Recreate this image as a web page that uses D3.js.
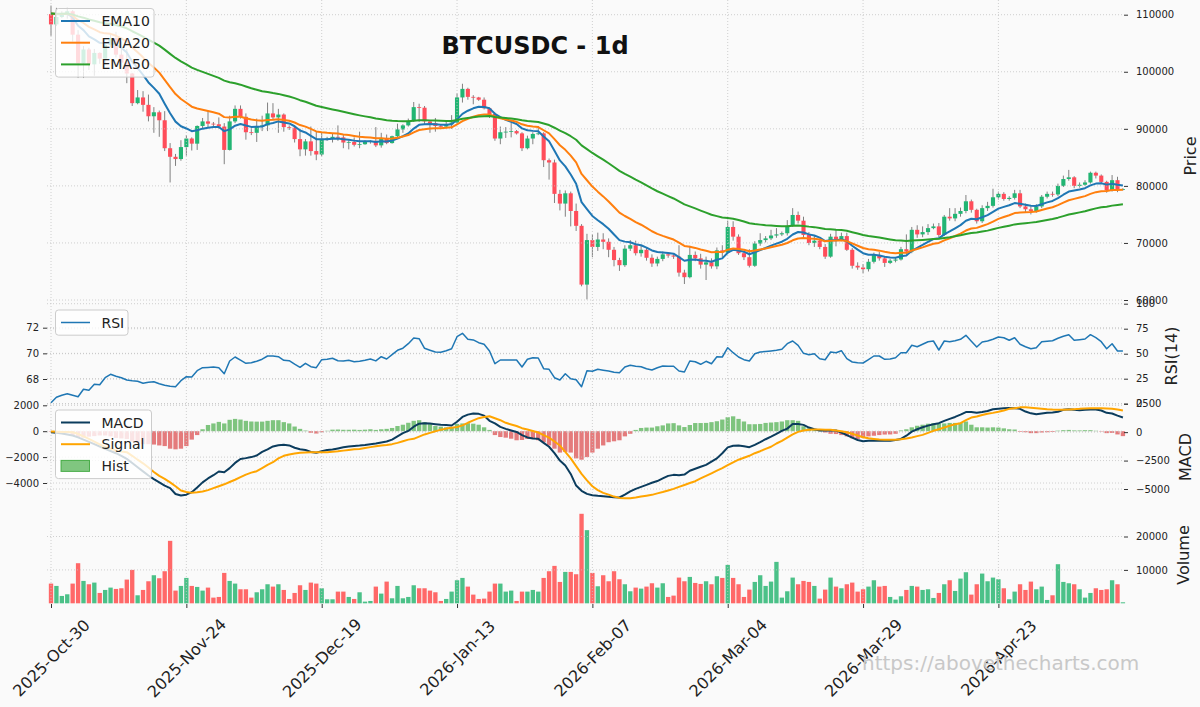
<!DOCTYPE html>
<html>
<head>
<meta charset="utf-8">
<script src="https://cdn.jsdelivr.net/npm/d3@7"></script>
<style>
  body { margin: 0; background: #fafafa; }
  svg { font-family: "DejaVu Sans", sans-serif; }
</style>
</head>
<body>
<svg id="chart" width="1200" height="707"></svg>
<script>
// BTCUSDC daily, 2025-10-30 .. 2026-05-16 (prices in thousand USD)
const tickIdx = [0, 25, 50, 75, 100, 125, 150, 175];
const tickLabels = ["2025-Oct-30", "2025-Nov-24", "2025-Dec-19", "2026-Jan-13",
  "2026-Feb-07", "2026-Mar-04", "2026-Mar-29", "2026-Apr-23"];

const open = [
  110.1,108.3,109.6,110.1,110.6,106.5,101.5,103.9,101.3,103.3,
  102.3,104.7,105.9,103.0,101.6,99.7,94.5,95.5,94.2,92.2,
  92.9,91.5,86.6,85.1,84.7,86.8,88.3,87.4,90.5,91.3,
  90.9,90.8,90.4,86.3,91.3,93.5,92.1,89.4,89.3,90.4,
  90.6,92.7,92.0,92.5,90.3,90.2,88.2,86.4,87.8,86.1,
  85.5,88.1,88.3,88.6,88.5,87.6,87.7,87.2,87.3,87.8,
  87.9,87.1,88.4,87.5,88.7,89.9,90.6,91.4,93.8,93.7,
  91.3,91.0,90.5,90.4,90.8,91.1,95.5,97.0,95.6,95.5,
  95.1,93.6,92.6,88.3,89.4,89.5,89.6,89.2,86.6,88.3,
  89.1,89.2,84.5,84.1,78.6,76.9,78.7,75.6,73.0,62.7,
  70.5,69.3,70.6,70.2,68.8,67.0,66.1,69.0,69.6,68.2,
  68.8,67.4,66.4,67.2,68.0,67.8,67.6,64.8,64.0,67.9,
  67.3,66.2,66.6,65.9,68.7,68.3,72.8,71.1,68.2,67.5,
  66.0,69.9,70.5,70.8,71.3,71.5,71.7,73.0,74.9,73.9,
  71.4,70.0,70.4,69.3,67.6,71.1,70.6,71.2,68.8,66.0,
  65.7,65.4,66.7,67.9,67.3,66.5,66.9,67.1,68.9,68.5,
  72.3,71.5,71.9,72.6,72.9,71.4,74.6,74.3,75.1,75.6,
  77.3,75.8,73.8,76.1,76.5,78.0,78.6,77.7,77.9,78.7,
  76.4,75.9,75.6,76.4,78.1,78.6,78.5,80.0,81.2,81.5,
  80.0,80.2,80.6,82.3,81.8,80.7,79.2,81.0,79.4];
const high = [
  111.6,111.2,110.6,111.2,110.8,107.3,104.5,104.2,104.0,103.4,
  105.0,106.6,107.0,105.3,104.0,99.8,96.8,96.6,96.0,93.8,
  93.2,93.1,87.5,85.6,88.0,88.9,88.5,90.6,91.9,93.1,
  91.2,92.0,91.0,92.3,94.1,94.1,92.7,90.3,91.8,92.3,
  94.6,94.5,93.5,92.7,90.6,90.5,90.0,88.2,90.4,89.5,
  89.4,88.6,89.1,90.6,88.9,88.0,88.5,89.5,88.0,88.0,
  90.3,89.3,89.0,88.8,90.9,90.8,91.8,94.7,94.4,94.0,
  91.5,91.9,90.8,91.2,92.4,96.2,97.9,97.2,95.9,95.6,
  95.5,93.7,92.8,90.4,90.3,91.1,89.8,89.4,88.8,89.4,
  90.5,89.4,84.8,84.6,79.3,79.2,79.0,76.9,73.3,71.6,
  71.5,71.8,71.7,70.8,69.3,67.4,69.6,70.5,70.4,69.5,
  69.2,68.0,67.6,68.5,68.3,68.0,69.6,65.3,69.5,68.5,
  68.1,67.6,67.3,69.2,69.6,73.9,73.8,71.5,68.6,68.9,
  70.3,71.7,71.2,72.3,72.6,72.0,74.0,76.1,75.5,74.6,
  71.9,71.2,70.7,69.8,71.6,72.3,71.8,71.8,69.1,66.6,
  66.3,67.2,68.3,68.4,67.6,67.2,67.4,69.3,71.5,72.8,
  73.1,72.9,73.3,73.4,73.5,74.9,76.1,76.1,76.2,78.4,
  77.6,76.0,76.6,77.2,79.5,79.0,78.9,78.2,79.3,79.3,
  76.9,76.4,76.8,78.4,79.0,79.0,80.4,81.8,82.8,81.7,
  80.6,81.0,82.5,82.5,82.0,80.9,81.9,81.6,79.6];
const low = [
  106.3,108.0,109.4,109.3,105.3,98.9,98.9,100.3,99.3,101.4,
  101.3,104.3,102.5,100.8,98.0,94.0,94.3,93.0,91.3,89.3,
  88.6,86.1,80.6,83.5,84.4,85.3,86.2,86.3,90.1,90.2,
  90.2,90.0,83.8,86.2,91.0,91.8,88.1,88.9,87.7,89.6,
  89.6,91.6,89.3,89.5,89.8,87.6,85.2,85.3,85.3,84.5,
  85.2,87.9,87.6,87.9,86.6,86.4,86.9,86.6,87.2,87.4,
  86.8,86.7,87.3,87.4,88.3,89.3,90.4,91.2,91.2,90.8,
  89.3,89.5,90.2,90.1,90.0,90.9,94.6,95.1,94.3,94.9,
  93.4,91.9,87.9,87.3,88.4,88.5,89.0,86.1,86.4,87.3,
  88.9,83.3,81.1,77.0,75.7,74.6,72.9,72.1,62.4,60.1,
  67.5,68.6,68.9,67.5,65.9,65.1,65.8,68.6,67.8,67.6,
  66.9,65.8,65.9,66.8,67.4,67.2,64.1,62.8,63.8,66.8,
  65.5,63.5,65.5,65.4,67.5,68.1,70.4,67.9,67.0,65.7,
  65.8,69.5,70.1,70.5,70.9,71.2,71.3,72.8,73.4,71.0,
  69.6,69.3,68.9,67.2,67.4,69.4,70.3,68.6,65.5,65.3,
  64.7,65.0,66.4,66.9,65.8,66.3,66.6,66.9,68.0,68.2,
  70.9,71.0,71.4,72.4,71.0,71.2,73.9,73.8,74.6,75.2,
  75.3,73.4,73.5,75.6,76.2,77.6,77.4,77.4,77.6,76.1,
  75.3,75.0,75.3,76.1,77.8,78.1,78.2,79.8,80.9,79.6,
  79.7,80.0,80.4,81.3,80.4,78.8,79.0,78.9,79.2];
const close = [
  108.3,109.6,110.1,110.6,106.5,101.5,103.9,101.3,103.3,102.3,
  104.7,105.9,103.0,101.6,99.7,94.5,95.5,94.2,92.2,92.9,
  91.5,86.6,85.1,84.7,86.8,88.3,87.4,90.5,91.3,90.9,
  90.8,90.4,86.3,91.3,93.5,92.1,89.4,89.3,90.4,90.6,
  92.7,92.0,92.5,90.3,90.2,88.2,86.4,87.8,86.1,85.5,
  88.1,88.3,88.6,88.5,87.6,87.7,87.2,87.3,87.8,87.9,
  87.1,88.4,87.5,88.7,89.9,90.6,91.4,93.8,93.7,91.3,
  91.0,90.5,90.4,90.8,91.1,95.5,97.0,95.6,95.5,95.1,
  93.6,92.6,88.3,89.4,89.5,89.6,89.2,86.6,88.3,89.1,
  89.2,84.5,84.1,78.6,76.9,78.7,75.6,73.0,62.7,70.5,
  69.3,70.6,70.2,68.8,67.0,66.1,69.0,69.6,68.2,68.8,
  67.4,66.4,67.2,68.0,67.8,67.6,64.8,64.0,67.9,67.3,
  66.2,66.6,65.9,68.7,68.3,72.8,71.1,68.2,67.5,66.0,
  69.9,70.5,70.8,71.3,71.5,71.7,73.0,74.9,73.9,71.4,
  70.0,70.4,69.3,67.6,71.1,70.6,71.2,68.8,66.0,65.7,
  65.4,66.7,67.9,67.3,66.5,66.9,67.1,68.9,68.5,72.3,
  71.5,71.9,72.6,72.9,71.4,74.6,74.3,75.1,75.6,77.3,
  75.8,73.8,76.1,76.5,78.0,78.6,77.7,77.9,78.7,76.4,
  75.9,75.6,76.4,78.1,78.6,78.5,80.0,81.2,81.5,80.0,
  80.2,80.6,82.3,81.8,80.7,79.2,81.0,79.4,79.45];

const ema10 = [
  110.2,110.09,110.09,110.18,109.51,108.05,107.30,106.21,105.68,105.07,
  105.00,105.16,104.77,104.19,103.37,101.76,100.62,99.45,98.13,97.18,
  96.15,94.41,92.72,91.26,90.45,90.06,89.58,89.75,90.03,90.19,
  90.30,90.32,89.59,89.90,90.55,90.83,90.57,90.34,90.35,90.40,
  90.82,91.03,91.30,91.12,90.95,90.45,89.71,89.36,88.77,88.18,
  88.17,88.19,88.27,88.31,88.18,88.09,87.93,87.82,87.82,87.83,
  87.70,87.83,87.77,87.94,88.29,88.71,89.20,90.04,90.70,90.81,
  90.84,90.78,90.71,90.73,90.80,91.65,92.62,93.17,93.59,93.86,
  93.81,93.59,92.63,92.04,91.58,91.22,90.85,90.08,89.76,89.64,
  89.56,88.64,87.81,86.14,84.46,83.41,81.99,80.36,77.15,75.94,
  74.73,73.98,73.29,72.48,71.48,70.50,70.23,70.12,69.77,69.59,
  69.19,68.68,68.41,68.34,68.24,68.12,67.52,66.88,67.07,67.11,
  66.94,66.88,66.70,67.06,67.29,68.29,68.80,68.69,68.47,68.02,
  68.36,68.75,69.12,69.52,69.88,70.21,70.72,71.48,71.92,71.83,
  71.50,71.30,70.94,70.33,70.47,70.49,70.62,70.29,69.51,68.82,
  68.20,67.93,67.92,67.81,67.57,67.45,67.39,67.66,67.81,68.63,
  69.15,69.65,70.19,70.68,70.81,71.50,72.01,72.57,73.12,73.88,
  74.23,74.15,74.51,74.87,75.44,76.01,76.32,76.61,76.99,76.88,
  76.70,76.50,76.48,76.78,77.11,77.36,77.84,78.45,79.01,79.19,
  79.37,79.59,80.08,80.40,80.45,80.22,80.36,80.19,80.06];
const ema20 = [
  110.2,110.14,110.14,110.18,109.83,109.04,108.55,107.86,107.43,106.94,
  106.73,106.65,106.30,105.85,105.27,104.24,103.41,102.53,101.55,100.73,
  99.85,98.59,97.30,96.10,95.22,94.56,93.88,93.56,93.34,93.11,
  92.89,92.65,92.05,91.98,92.12,92.12,91.86,91.62,91.50,91.42,
  91.54,91.58,91.67,91.54,91.41,91.11,90.66,90.39,89.98,89.55,
  89.41,89.31,89.24,89.17,89.02,88.90,88.74,88.60,88.52,88.46,
  88.33,88.34,88.26,88.30,88.45,88.65,88.91,89.38,89.79,89.93,
  90.04,90.08,90.11,90.18,90.26,90.76,91.36,91.76,92.12,92.40,
  92.51,92.52,92.12,91.86,91.64,91.44,91.23,90.79,90.55,90.41,
  90.30,89.75,89.21,88.20,87.12,86.32,85.30,84.13,82.09,80.99,
  79.88,78.99,78.16,77.27,76.29,75.32,74.72,74.23,73.66,73.19,
  72.64,72.05,71.59,71.24,70.92,70.60,70.05,69.47,69.32,69.13,
  68.85,68.64,68.38,68.41,68.40,68.82,69.03,68.95,68.81,68.55,
  68.68,68.85,69.04,69.25,69.47,69.68,69.99,70.46,70.79,70.85,
  70.77,70.73,70.60,70.31,70.39,70.41,70.48,70.32,69.91,69.51,
  69.12,68.89,68.79,68.65,68.45,68.30,68.19,68.26,68.28,68.66,
  68.93,69.22,69.54,69.86,70.00,70.44,70.81,71.22,71.63,72.17,
  72.52,72.64,72.97,73.30,73.75,74.21,74.54,74.86,75.23,75.34,
  75.39,75.41,75.51,75.76,76.03,76.26,76.62,77.06,77.48,77.72,
  77.96,78.21,78.60,78.90,79.07,79.09,79.27,79.28,79.30];
const ema50 = [
  110.2,110.18,110.17,110.19,110.04,109.71,109.48,109.16,108.93,108.67,
  108.52,108.41,108.20,107.94,107.62,107.10,106.65,106.16,105.61,105.12,
  104.58,103.88,103.14,102.42,101.81,101.28,100.73,100.33,99.98,99.62,
  99.28,98.93,98.44,98.16,97.97,97.74,97.42,97.10,96.84,96.59,
  96.44,96.26,96.12,95.89,95.67,95.38,95.02,94.74,94.40,94.05,
  93.82,93.60,93.40,93.21,92.99,92.78,92.56,92.36,92.18,92.01,
  91.82,91.69,91.52,91.41,91.35,91.32,91.33,91.42,91.51,91.50,
  91.48,91.44,91.40,91.38,91.37,91.53,91.75,91.90,92.04,92.16,
  92.22,92.23,92.08,91.97,91.88,91.79,91.69,91.49,91.36,91.27,
  91.19,90.93,90.66,90.19,89.67,89.24,88.70,88.09,87.09,86.44,
  85.77,85.17,84.59,83.97,83.30,82.63,82.10,81.61,81.08,80.60,
  80.08,79.55,79.06,78.63,78.20,77.79,77.28,76.76,76.41,76.05,
  75.67,75.31,74.94,74.70,74.45,74.38,74.25,74.02,73.76,73.46,
  73.32,73.21,73.11,73.04,72.98,72.93,72.93,73.01,73.04,72.98,
  72.86,72.77,72.63,72.43,72.38,72.31,72.27,72.13,71.89,71.65,
  71.40,71.22,71.09,70.94,70.77,70.62,70.48,70.42,70.34,70.42,
  70.46,70.52,70.60,70.69,70.72,70.87,71.00,71.16,71.34,71.57,
  71.74,71.82,71.99,72.16,72.39,72.64,72.83,73.03,73.25,73.38,
  73.47,73.56,73.67,73.84,74.03,74.21,74.43,74.70,74.97,75.16,
  75.36,75.56,75.83,76.06,76.24,76.36,76.54,76.65,76.76];

const rsi = [
  1.0,6.5,8.5,10.0,8.5,7.0,14.4,13.4,19.4,19.0,
  26.0,29.4,27.5,26.0,23.7,23.0,22.5,20.5,21.5,22.0,
  20.0,18.5,17.5,17.0,23.0,27.0,26.7,33.0,36.0,36.3,
  36.7,36.0,30.0,42.7,46.7,43.5,40.4,41.0,42.5,44.5,
  47.7,47.7,47.0,43.4,43.0,39.5,36.4,40.4,37.0,36.0,
  44.0,44.4,45.4,43.0,42.7,43.4,42.0,42.5,43.4,44.7,
  42.8,47.0,44.7,49.0,53.4,55.5,60.0,65.7,65.0,55.4,
  53.5,51.7,51.4,53.0,55.0,67.0,70.4,64.4,63.8,61.0,
  59.4,52.7,40.0,43.7,43.7,43.7,43.7,36.7,44.4,46.0,
  45.7,35.0,34.4,26.0,23.7,30.0,25.0,24.0,17.0,33.0,
  32.4,34.4,33.5,32.7,31.5,31.0,36.7,38.4,37.5,37.0,
  35.0,33.7,36.0,37.7,37.5,37.4,32.7,31.7,42.7,42.0,
  39.4,42.4,40.0,47.0,46.7,56.0,51.0,46.7,44.0,42.7,
  50.0,51.7,52.2,52.8,53.5,54.4,60.0,62.7,58.4,50.4,
  49.0,50.0,45.0,44.0,51.7,51.0,53.0,45.0,41.7,41.0,
  40.7,44.0,47.7,47.7,44.4,44.7,46.0,51.0,51.0,58.4,
  57.0,59.5,62.0,62.7,53.7,62.7,62.0,63.0,64.4,68.4,
  62.5,56.7,61.7,62.7,64.5,66.7,66.0,63.4,66.0,59.4,
  57.0,55.0,56.0,62.0,62.5,63.0,65.4,67.5,69.0,63.4,
  64.0,64.7,69.0,66.0,62.0,55.0,60.0,52.7,52.7];

const macd = [
  -77,-120,-180,-260,-335,-480,-650,-820,-1000,-1180,
  -1364,-1530,-1700,-1900,-2136,-2450,-2780,-3100,-3423,-3700,
  -3950,-4200,-4400,-4850,-4968,-4900,-4710,-4350,-3950,-3650,
  -3400,-3115,-3166,-2850,-2450,-2150,-2080,-2000,-1879,-1600,
  -1400,-1180,-1080,-1055,-1100,-1280,-1400,-1450,-1600,-1660,
  -1544,-1450,-1420,-1330,-1236,-1180,-1140,-1110,-1060,-1000,
  -950,-870,-800,-650,-400,-150,20,350,580,620,
  590,545,500,470,440,730,1100,1280,1364,1340,
  1200,800,600,330,180,60,-60,-300,-480,-570,
  -592,-900,-1200,-1700,-2265,-2650,-3300,-4200,-4600,-4839,
  -4950,-4990,-5019,-5060,-5100,-5120,-4900,-4650,-4450,-4300,
  -4144,-3980,-3850,-3650,-3450,-3372,-3400,-3350,-3050,-2900,
  -2750,-2600,-2350,-2100,-1700,-1250,-1130,-1110,-1170,-1236,
  -1050,-849,-620,-420,-200,30,200,550,560,489,
  280,150,60,50,50,50,-100,-300,-500,-680,
  -772,-740,-720,-740,-746,-730,-680,-600,-350,-30,
  150,300,430,530,618,800,952,1100,1280,1480,
  1480,1416,1480,1560,1700,1740,1770,1800,1780,1725,
  1519,1380,1313,1360,1416,1450,1500,1660,1690,1650,
  1622,1650,1673,1680,1600,1416,1370,1200,1055];
const signal = [
  -26,-40,-60,-70,-77,-200,-400,-592,-800,-1020,
  -1236,-1360,-1480,-1560,-1622,-1900,-2200,-2480,-2800,-3150,
  -3450,-3681,-3950,-4250,-4582,-4700,-4762,-4720,-4659,-4550,
  -4400,-4247,-4100,-3920,-3750,-3550,-3350,-3200,-3089,-2850,
  -2600,-2394,-2100,-1900,-1800,-1720,-1673,-1650,-1630,-1622,
  -1622,-1622,-1590,-1550,-1500,-1450,-1400,-1370,-1300,-1230,
  -1170,-1110,-1060,-1000,-900,-780,-650,-590,-420,-250,
  -129,-10,120,200,270,320,450,650,830,1004,
  1100,1150,1004,850,650,520,400,232,130,20,
  -100,-300,-500,-800,-1107,-1600,-2100,-2700,-3300,-3800,
  -4250,-4550,-4762,-4900,-5050,-5150,-5174,-5174,-5120,-5050,
  -4980,-4916,-4800,-4700,-4580,-4453,-4300,-4150,-4000,-3860,
  -3650,-3450,-3250,-3050,-2850,-2620,-2400,-2200,-2050,-1900,
  -1700,-1544,-1370,-1200,-950,-750,-500,-250,-50,60,
  120,135,130,120,105,60,0,-77,-200,-330,
  -463,-550,-600,-643,-660,-669,-660,-620,-560,-480,
  -380,-283,-130,30,150,280,420,540,620,850,
  1050,1133,1250,1350,1416,1500,1600,1725,1780,1840,
  1853,1820,1776,1740,1700,1673,1660,1647,1670,1700,
  1725,1760,1776,1776,1776,1760,1725,1680,1596];
const hist = [
  -30,-50,-80,-150,-300,-450,-500,-420,-380,-330,
  -330,-400,-520,-560,-600,-800,-900,-1000,-1000,-1030,
  -1100,-1150,-1350,-1400,-1350,-1150,-650,-300,150,480,
  600,720,600,880,950,900,800,750,740,740,
  800,850,850,700,600,360,180,50,-120,-180,
  -80,30,120,130,110,110,120,100,120,150,
  100,150,180,250,400,500,650,800,850,700,
  550,400,350,300,330,560,600,620,580,500,
  300,100,-300,-450,-500,-580,-700,-680,-600,-580,
  -700,-850,-1100,-1350,-1650,-1600,-1650,-2100,-2200,-2000,
  -1650,-1350,-1100,-850,-780,-700,-400,-200,100,250,
  280,280,380,450,600,620,450,320,480,630,
  630,640,700,770,900,1080,1150,950,750,540,
  540,560,640,670,700,750,850,850,800,380,
  230,100,80,-100,-200,-220,-300,-400,-550,-600,
  -500,-400,-350,-300,-260,-250,-200,60,150,300,
  420,500,580,620,600,600,640,640,650,750,
  500,300,300,280,300,280,220,150,130,-50,
  -80,-150,-150,-100,-80,-60,40,80,100,60,
  60,80,80,30,-30,-150,-130,-250,-380];

const volume = [
  5900,5200,2200,2700,5900,12000,6700,5700,6200,3100,
  4000,4700,4300,4500,7100,10000,2400,4000,6600,8400,
  7500,9600,18700,3800,5200,7600,5200,4900,3800,4700,
  1700,1900,9100,6700,5900,4200,4200,1700,3300,4200,
  5700,5000,5700,4000,1300,3100,5400,4000,6200,5900,
  4500,1200,1200,3500,3500,1900,1300,3300,500,700,
  5000,2900,6500,1500,5200,1500,1900,5400,4500,4500,
  3800,3300,700,1300,3500,6900,7600,5000,2600,1300,
  1400,3500,5900,5900,3500,3800,700,3500,3500,4000,
  3500,7600,9600,11200,6400,9400,9400,8700,26800,21900,
  9100,5100,8400,6600,9600,7200,5700,3600,4700,4400,
  5000,6000,4700,6000,1900,2300,7700,6600,7900,6100,
  5800,6600,5700,8100,7600,11500,7600,5700,1900,4100,
  6400,8400,5200,6500,12400,1700,3600,7700,5700,6700,
  6400,5200,1400,4100,7700,5000,4500,5700,6200,3500,
  4200,5000,6900,5000,5200,1900,1100,2100,4000,5200,
  5000,4000,4200,1600,3100,5700,6900,3700,7400,9300,
  2600,5700,8900,6600,7700,7200,4500,1200,3500,5700,
  4000,6500,4200,5000,1000,2400,11700,6400,6000,5700,
  4200,1700,3100,4500,4000,4200,6900,5700,300];

const priceTicks = [60, 70, 80, 90, 100, 110];
const rsiTicksR = [0, 25, 50, 75, 100];
const rsiTicksL = [68, 70, 72];
const macdTicksL = [-4000, -2000, 0, 2000];
const macdTicksR = [-5000, -2500, 0, 2500];
const volTicks = [10000, 20000];

const UP = "#22b573", DOWN = "#ff4d5a";
const svg = d3.select("#chart");
svg.append("rect").attr("width", 1200).attr("height", 707).attr("fill", "#fafafa");

const left = 47, right = 1124;
const x = d3.scaleLinear().domain([-0.74, 198.2]).range([left, right]);
const yPrice = d3.scaleLinear().domain([60, 110]).range([300, 14.7]);
const yRsi = d3.scaleLinear().domain([0, 100]).range([403.7, 303.7]);
const yRsiL = d3.scaleLinear().domain([68, 72]).range([379, 327.7]);
const yMacd = d3.scaleLinear().domain([-4000, 2000]).range([483, 405.3]);
const yMacdR = d3.scaleLinear().domain([-5000, 2500]).range([489, 403.7]);
const yVol = d3.scaleLinear().domain([0, 20000]).range([603.3, 536.5]);
const step = x(1) - x(0);
const idx = d3.range(close.length);

// bars (patches) first
const histG = svg.append("g");
histG.selectAll("rect").data(hist).enter().append("rect")
  .attr("x", (d, i) => x(i) - step * 0.4)
  .attr("width", step * 0.8)
  .attr("y", d => Math.min(yMacd(d), yMacd(0)))
  .attr("height", d => Math.abs(yMacd(d) - yMacd(0)))
  .attr("fill", d => d >= 0 ? "#2ca02c" : "#d62728")
  .attr("opacity", 0.6);

svg.append("g").selectAll("rect").data(volume).enter().append("rect")
  .attr("x", (d, i) => x(i) - step * 0.4)
  .attr("width", step * 0.8)
  .attr("y", d => yVol(d))
  .attr("height", d => yVol(0) - yVol(d))
  .attr("fill", (d, i) => close[i] >= open[i] ? "#2bb673" : "#ff4d4d")
  .attr("opacity", 0.85);

// candles
const cg = svg.append("g");
cg.selectAll("line").data(idx).enter().append("line")
  .attr("x1", i => x(i)).attr("x2", i => x(i))
  .attr("y1", i => yPrice(high[i])).attr("y2", i => yPrice(low[i]))
  .attr("stroke", "#808080").attr("stroke-width", 1);
cg.selectAll("rect").data(idx).enter().append("rect")
  .attr("x", i => x(i) - step * 0.38)
  .attr("width", step * 0.76)
  .attr("y", i => yPrice(Math.max(open[i], close[i])))
  .attr("height", i => Math.max(0.8, Math.abs(yPrice(open[i]) - yPrice(close[i]))))
  .attr("fill", i => close[i] >= open[i] ? UP : DOWN);

// grid
const grid = svg.append("g").attr("stroke", "#c4c4c4").attr("stroke-width", 0.8)
  .attr("stroke-dasharray", "1,2");
function hGrid(scale, vals) {
  grid.append("g").selectAll("line").data(vals).enter().append("line")
    .attr("x1", left).attr("x2", right)
    .attr("y1", d => scale(d)).attr("y2", d => scale(d));
}
hGrid(yPrice, priceTicks);
hGrid(yRsi, rsiTicksR);
hGrid(yRsiL, rsiTicksL);
hGrid(yMacd, macdTicksL);
hGrid(yMacdR, macdTicksR);
hGrid(yVol, volTicks);
grid.append("g").selectAll("line").data(tickIdx).enter().append("line")
  .attr("x1", d => x(d)).attr("x2", d => x(d)).attr("y1", 0).attr("y2", 603.3);

// lines
function drawLine(data, scale, color, width) {
  svg.append("path").datum(data)
    .attr("d", d3.line().x((d, i) => x(i)).y(d => scale(d)))
    .attr("fill", "none").attr("stroke", color).attr("stroke-width", width)
    .attr("stroke-linejoin", "round");
}
drawLine(ema10, yPrice, "#1f77b4", 2);
drawLine(ema20, yPrice, "#ff7f0e", 2);
drawLine(ema50, yPrice, "#2ca02c", 2);
drawLine(rsi, yRsi, "#1f77b4", 1.5);
drawLine(macd, yMacd, "#0b3c5d", 2);
drawLine(signal, yMacd, "#ffa500", 2);

// axes
function styleAxis(g) {
  g.select(".domain").remove();
  g.selectAll(".tick line").attr("stroke", "#333");
  g.selectAll(".tick text").attr("fill", "#222")
    .style("font-size", "10px").style("font-family", "DejaVu Sans");
}
const fmt = d3.format("d");
function rightAxis(scale, vals, f) {
  svg.append("g").attr("transform", `translate(${right},0)`)
    .call(d3.axisRight(scale).tickValues(vals).tickFormat(f).tickSize(4).tickPadding(8))
    .call(styleAxis);
}
function leftAxis(scale, vals, f) {
  svg.append("g").attr("transform", `translate(${left},0)`)
    .call(d3.axisLeft(scale).tickValues(vals).tickFormat(f).tickSize(4).tickPadding(4))
    .call(styleAxis);
}
rightAxis(yPrice, priceTicks, d => fmt(d * 1000));
rightAxis(yRsi, rsiTicksR, fmt);
rightAxis(yMacdR, macdTicksR, fmt);
rightAxis(yVol, volTicks, fmt);
leftAxis(yRsiL, rsiTicksL, fmt);
leftAxis(yMacd, macdTicksL, fmt);

const xAxis = svg.append("g").attr("transform", "translate(0,604)")
  .call(d3.axisBottom(x).tickValues(tickIdx).tickFormat((d, i) => tickLabels[i]).tickSize(4))
  .call(styleAxis);
xAxis.selectAll(".tick text")
  .attr("y", null).attr("dy", null)
  .attr("text-anchor", "middle").attr("dominant-baseline", "central")
  .attr("transform", "translate(0,54) rotate(-45)")
  .style("font-size", "16px");

// axis labels
function yLabel(txt, cx, cy) {
  svg.append("text").attr("transform", `translate(${cx},${cy}) rotate(-90)`)
    .attr("text-anchor", "middle").attr("dominant-baseline", "central")
    .attr("fill", "#222").style("font-size", "16px").text(txt);
}
yLabel("Price", 1190, 156);
yLabel("RSI(14)", 1171, 356);
yLabel("MACD", 1185, 457);
yLabel("Volume", 1183, 555);

// legends
function legend(x0, y0, w, items) {
  const g = svg.append("g");
  g.append("rect").attr("x", x0).attr("y", y0).attr("width", w)
    .attr("height", items.length * 21.7 + 3.5).attr("rx", 3)
    .attr("fill", "#fff").attr("fill-opacity", 0.8).attr("stroke", "#ccc");
  items.forEach((it, k) => {
    const cy = y0 + 12.5 + k * 21.7;
    if (it.patch) {
      g.append("rect").attr("x", x0 + 5.5).attr("y", cy - 5.5).attr("width", 28.5).attr("height", 11)
        .attr("fill", it.color).attr("fill-opacity", 0.6).attr("stroke", it.color).attr("stroke-opacity", 0.8);
    } else {
      g.append("line").attr("x1", x0 + 5.5).attr("x2", x0 + 34.5).attr("y1", cy).attr("y2", cy)
        .attr("stroke", it.color).attr("stroke-width", it.w);
    }
    g.append("text").attr("x", x0 + 46).attr("y", cy).attr("dominant-baseline", "central")
      .attr("fill", "#222").style("font-size", "14px").text(it.label);
  });
}
legend(55.5, 8.5, 98.5, [
  {label: "EMA10", color: "#1f77b4", w: 2},
  {label: "EMA20", color: "#ff7f0e", w: 2},
  {label: "EMA50", color: "#2ca02c", w: 2}]);
legend(55.5, 310, 72.5, [{label: "RSI", color: "#1f77b4", w: 1.5}]);
legend(55.5, 410, 96, [
  {label: "MACD", color: "#0b3c5d", w: 2},
  {label: "Signal", color: "#ffa500", w: 2},
  {label: "Hist", color: "#2ca02c", patch: true}]);

// title and watermark
svg.append("text").attr("x", 535).attr("y", 54).attr("text-anchor", "middle")
  .attr("fill", "#111").style("font-size", "24px").style("font-weight", "bold")
  .text("BTCUSDC - 1d");
svg.append("text").attr("x", 862).attr("y", 670)
  .attr("fill", "#c8c8c8").style("font-size", "20px")
  .text("https://abovethecharts.com");
</script>
</body>
</html>
